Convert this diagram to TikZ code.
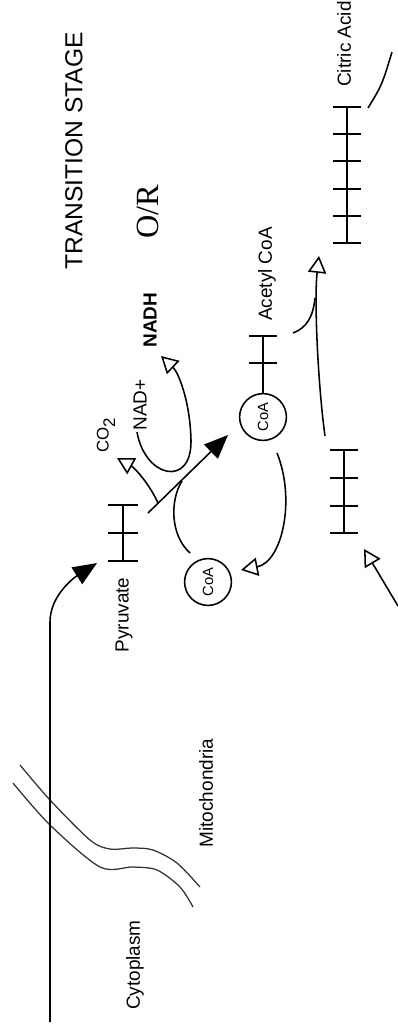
\documentclass[tikz,border=0pt]{standalone}
\usepackage{fontspec}
\setmainfont{Liberation Sans}
\newfontfamily\orfont{Liberation Serif}
\usetikzlibrary{arrows.meta}

\begin{document}
\begin{tikzpicture}[x=0.025cm,y=-0.025cm,line width=1.1pt,
    txt/.style={rotate=90,inner sep=0pt,font=\fontsize{13.5}{14}\selectfont},
    coa/.style={shape=circle,draw=black,rotate=90,inner sep=0pt,minimum size=1.17cm,font=\fontsize{10.5}{11}\selectfont},
    bigtip/.style={-{Triangle[length=17pt,width=14pt]}},
    opentip/.style={-{Triangle[open,length=12pt,width=13pt]}},
    membrane/.style={line width=0.9pt,black!80}]
  \useasboundingbox (0,0) rectangle (398,1028);

  \node[rotate=90,font=\fontsize{17.5}{18}\selectfont] (title) at (74,151) {TRANSITION STAGE};
  \node[rotate=90,font=\orfont\fontsize{23}{23}\selectfont] (or) at (148,212) {O/R};

  \node[txt] (cyto) at (135,965) {Cytoplasm};
  \node[txt] (mito) at (206,793) {Mitochondria};
  \node[txt] (pyr) at (124,615) {Pyruvate};
  \node[txt] (acetyl) at (267,274) {Acetyl CoA};
  \node[txt] (citric) at (344,44) {Citric Acid};
  \node[txt,font=\fontsize{12}{12}\selectfont] (co2) at (106,435) {CO\raisebox{-0.75ex}{2}};
  \node[txt] (nad) at (140,405) {NAD+};
  \node[txt,font=\bfseries\fontsize{13.5}{14}\selectfont] (nadh) at (150,320) {NADH};

  \node[coa] (coaUp) at (263,417) {CoA};
  \node[coa] (coaLow) at (208,582) {CoA};

  % membrane
  \draw[membrane] plot[smooth] coordinates {(20,765) (50,800) (90,840) (110,849) (133,848) (153,850) (177,863) (200,887)};
  \draw[membrane] plot[smooth] coordinates {(13,783) (50,825) (100,867) (133,867) (157,870) (180,887) (193,907)};

  % carbon chains
  \draw (123,505) -- (123,561);
  \foreach \y in {505,533,561} \draw (108,\y) -- (138,\y);
  \draw (coaUp) -- (263,336);
  \foreach \y in {336,363} \draw (249,\y) -- (277,\y);
  \draw (347,107) -- (347,243);
  \foreach \y in {107,134,161,189,216,243} \draw (333,\y) -- (361,\y);
  \draw (344,450) -- (344,533);
  \foreach \y in {450,478,506,533} \draw (330,\y) -- (358,\y);

  \coordinate (inStart) at (50,1022);
  \coordinate (pyrIn) at (97,563);
  \coordinate (pyrOut) at (148,513);
  \coordinate (acIn) at (228,435);
  \coordinate (split) at (158,503);
  \coordinate (co2In) at (117,458);
  \coordinate (nadIn) at (137,432);
  \coordinate (nadhIn) at (161,356);
  \coordinate (coaLowOut) at (190,553);
  \coordinate (join) at (182,481);
  \coordinate (coaUpOut) at (277,453);
  \coordinate (coaLowIn) at (241,570);
  \coordinate (oxaOut) at (325,436);
  \coordinate (citIn) at (319,256);
  \coordinate (acOut) at (293,333);
  \coordinate (merge) at (315,298);
  \coordinate (oxaFrom) at (398,606);
  \coordinate (oxaIn) at (364,549);
  \coordinate (citOut) at (368,108);
  \coordinate (toCycle) at (392,52);

  \draw[bigtip] (inStart) -- (50,622) .. controls (50,595) and (75,577) .. (pyrIn);
  \draw[bigtip] (pyrOut) -- (acIn);
  \draw[opentip] (split) .. controls (150,485) and (135,468) .. (co2In);
  \draw[opentip] (nadIn) .. controls (145,478) and (192,488) .. (191,440) .. controls (190,400) and (178,372) .. (nadhIn);
  \draw (coaLowOut) .. controls (170,535) and (170,500) .. (join);
  \draw[opentip] (coaUpOut) .. controls (296,500) and (282,562) .. (coaLowIn);
  \draw[opentip] (oxaOut) .. controls (318,385) and (314,300) .. (citIn);
  \draw (acOut) .. controls (306,328) and (313,318) .. (merge);
  \draw[opentip] (oxaFrom) -- (oxaIn);
  \draw (citOut) .. controls (382,85) .. (toCycle);
  %\draw (citric) -- (citOut);
\end{tikzpicture}
\end{document}
